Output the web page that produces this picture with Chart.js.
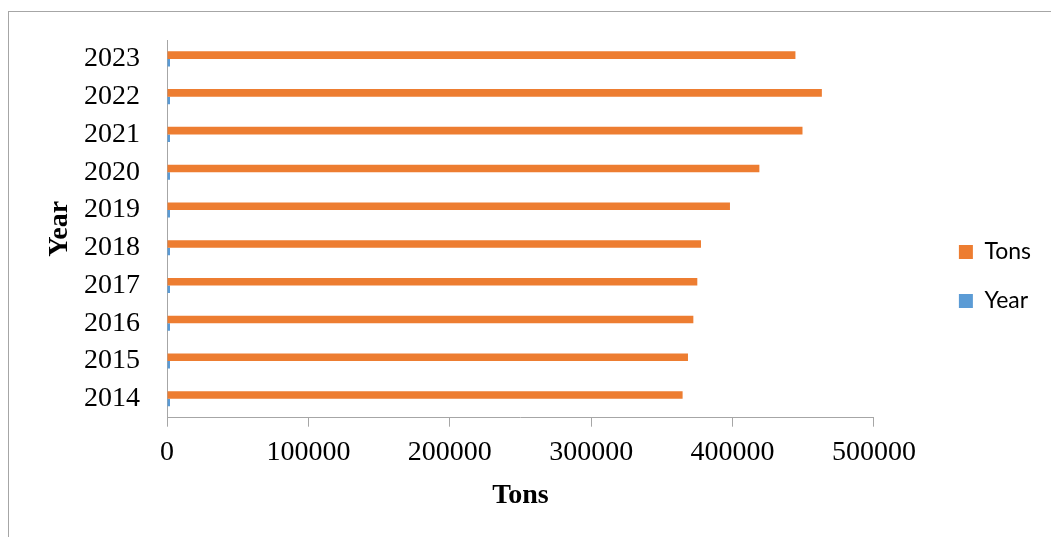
<!DOCTYPE html>
<html>
<head>
<meta charset="utf-8">
<script src="https://cdn.jsdelivr.net/npm/chart.js@4.4.1/dist/chart.umd.min.js"></script>
<style>
  html, body { margin: 0; padding: 0; background: #fff; }
  #wrap { position: relative; width: 1051px; height: 537px; overflow: hidden; }
  #frame {
    position: absolute; left: 8px; top: 11px; width: 1100px; height: 600px;
    border-left: 1px solid #a6a6a6; border-top: 1px solid #a6a6a6;
  }
  #chart { position: absolute; left: 0; top: 0; }
</style>
</head>
<body>
<div id="wrap">
  <div id="frame"></div>
  <canvas id="chart" width="1051" height="537"></canvas>
</div>
<script>
// values
const years = ['2014', '2015', '2016', '2017', '2018', '2019', '2020', '2021', '2022', '2023'];
const tons = [364700, 368500, 372300, 375100, 377700, 398200, 419000, 449500, 463200, 444500];
const yearValues = [2014, 2015, 2016, 2017, 2018, 2019, 2020, 2021, 2022, 2023];
const xTicks = [0, 100000, 200000, 300000, 400000, 500000];

const axisGrey = '#a6a6a6';
const serif = "'Liberation Serif', 'Times New Roman', serif";
const legendShift = 59; // legend sits away from the plot, as in the original

const nudgeLegend = {
  id: 'nudgeLegend',
  afterLayout: (chart) => {
    chart.legend.left += legendShift;
    chart.legend.right += legendShift;
  },
};

new Chart(document.getElementById('chart'), {
  type: 'bar',
  data: {
    labels: years,
    datasets: [
      {
        label: 'Tons',
        data: tons,
        backgroundColor: '#ED7D31',
        borderWidth: 0,
        categoryPercentage: 0.4,
        barPercentage: 1,
      },
      {
        label: 'Year',
        data: yearValues,
        backgroundColor: '#5B9BD5',
        borderWidth: 0,
        categoryPercentage: 0.4,
        barPercentage: 1,
        minBarLength: 3,
      },
    ],
  },
  options: {
    indexAxis: 'y',
    responsive: false,
    animation: false,
    devicePixelRatio: 1,
    layout: { padding: { top: 40, left: 0, right: 69, bottom: 24 } },
    scales: {
      x: {
        min: xTicks[0],
        max: xTicks[xTicks.length - 1],
        afterBuildTicks: (scale) => {
          scale.ticks = xTicks.map((v) => ({ value: v }));
        },
        afterFit: (scale) => {
          scale.height = 95.3;
        },
        grid: {
          display: true,
          drawOnChartArea: false,
          drawTicks: true,
          tickLength: 9,
          color: axisGrey,
          lineWidth: 1,
        },
        border: { display: true, color: axisGrey, width: 1 },
        ticks: {
          padding: 9,
          color: '#000',
          font: { family: serif, size: 28 },
          callback: (v) => String(v),
          maxRotation: 0,
        },
        title: {
          display: true,
          text: 'Tons',
          color: '#000',
          font: { family: serif, size: 28, weight: 'bold' },
          padding: { top: 0, bottom: 0 },
        },
      },
      y: {
        reverse: true,
        afterFit: (scale) => {
          scale.width = 167;
          scale.paddingTop = 0;
          scale.paddingBottom = 0;
        },
        grid: { display: false, drawTicks: false },
        border: { display: true, color: axisGrey, width: 1 },
        ticks: {
          padding: 27,
          color: '#000',
          font: { family: serif, size: 28 },
        },
        title: {
          display: true,
          text: 'Year',
          color: '#000',
          font: { family: serif, size: 28, weight: 'bold' },
          padding: { top: 43, bottom: 0 },
        },
      },
    },
    plugins: {
      legend: {
        position: 'right',
        align: 'center',
        labels: {
          boxWidth: 14,
          boxHeight: 14,
          padding: 26,
          color: '#000',
          font: { family: "Lato, 'Liberation Sans', sans-serif", size: 23 },
        },
      },
      tooltip: { enabled: false },
    },
  },
  plugins: [nudgeLegend],
});
</script>
</body>
</html>
